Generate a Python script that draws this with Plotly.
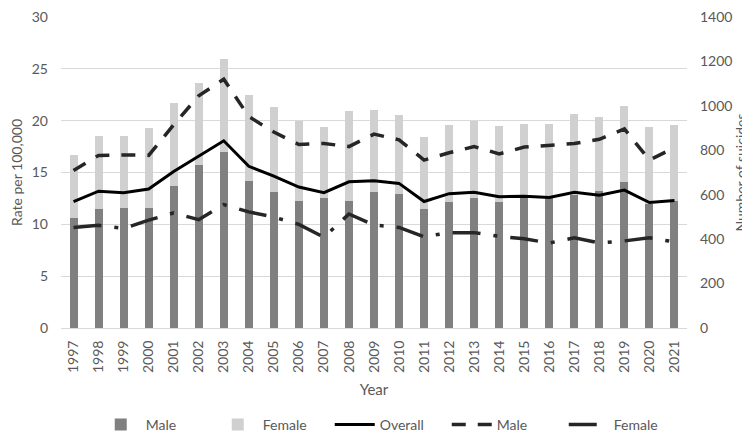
import plotly.graph_objects as go

years = [str(y) for y in range(1997, 2022)]

# Number of suicides (right axis)
male_count = [493, 537, 541, 541, 639, 733, 793, 663, 611, 572, 583, 572, 611, 602,
              537, 565, 583, 565, 583, 583, 597, 616, 657, 557, 572]
female_count = [286, 326, 322, 360, 374, 368, 418, 385, 383, 360, 322, 403, 369, 359,
                322, 350, 350, 345, 336, 336, 368, 334, 342, 348, 343]

# Rate per 100,000 (left axis)
overall_rate = [12.2, 13.2, 13.05, 13.4, 15.1, 16.56, 18.06, 15.6, 14.65, 13.6, 13.06, 14.1,
                14.2, 13.95, 12.2, 12.96, 13.1, 12.67, 12.7, 12.6, 13.1, 12.8, 13.3, 12.1, 12.3]
male_rate = [15.2, 16.65, 16.7, 16.65, 19.6, 22.4, 24.0, 20.4, 18.9, 17.7, 17.8, 17.5,
             18.7, 18.15, 16.2, 16.9, 17.5, 16.8, 17.45, 17.6, 17.8, 18.2, 19.2, 16.2, 17.4]
female_rate = [9.7, 9.9, 9.6, 10.4, 11.1, 10.45, 11.9, 11.2, 10.7, 10.0, 8.76, 11.0,
               9.94, 9.7, 8.8, 9.2, 9.2, 8.85, 8.6, 8.2, 8.7, 8.2, 8.4, 8.7, 8.3]

FONT = "Lato"
TXT = "#595959"
GRID = "#d9d9d9"

fig = go.Figure()
fig.add_trace(go.Bar(x=years, y=male_count, name="Male", marker_color="#808080",
                     marker_line_width=0, yaxis="y"))
fig.add_trace(go.Bar(x=years, y=female_count, name="Female", marker_color="#d0d0d0",
                     marker_line_width=0, yaxis="y"))
fig.add_trace(go.Scatter(x=years, y=overall_rate, name="Overall", mode="lines",
                         line=dict(color="#000000", width=3), yaxis="y2"))
fig.add_trace(go.Scatter(x=years, y=male_rate, name="Male", mode="lines",
                         line=dict(color="#262626", width=3.5, dash="14px,12px"), yaxis="y2"))
fig.add_trace(go.Scatter(x=years, y=female_rate, name="Female", mode="lines",
                         line=dict(color="#262626", width=3.5, dash="28px,13px,4px,13px"),
                         yaxis="y2"))

fig.update_layout(
    width=750, height=433, autosize=False,
    margin=dict(l=53, r=71, t=9, b=113, pad=0, autoexpand=False),
    paper_bgcolor="white", plot_bgcolor="white",
    barmode="stack", bargap=0.68,
    font=dict(family=FONT, size=14, color=TXT),
    showlegend=True,
    legend=dict(orientation="h", xref="container", yref="container",
                x=0.507, xanchor="center", y=0.0, yanchor="bottom",
                font=dict(size=14, color=TXT), traceorder="normal",
                entrywidth=62, entrywidthmode="pixels",
                itemwidth=40, bgcolor="rgba(0,0,0,0)"),
    xaxis=dict(type="category", tickangle=-90, showgrid=False, showline=True,
               linecolor=GRID, linewidth=1, ticks="", ticklabelstandoff=6,
               automargin=False, tickfont=dict(size=14, color=TXT),
               title=dict(text="Year", standoff=12, font=dict(size=15, color=TXT))),
    yaxis=dict(side="right", range=[0, 1400], dtick=200, showgrid=False, zeroline=False,
               showline=False, ticks="", ticklabelstandoff=12, automargin=False,
               ticklabeloverflow="allow",
               tickfont=dict(size=14, color=TXT),
               title=dict(text="Number of suicides", standoff=2,
                          font=dict(size=14, color=TXT))),
    yaxis2=dict(side="left", overlaying="y", range=[0, 30], dtick=5, showgrid=True,
                gridcolor=GRID, gridwidth=1, zeroline=False, showline=False, ticks="",
                ticklabelstandoff=12, automargin=False, ticklabeloverflow="allow",
                tickfont=dict(size=14, color=TXT),
                title=dict(text="Rate per 100,000", standoff=8,
                           font=dict(size=14, color=TXT))),
)

fig.write_html("out.html")
